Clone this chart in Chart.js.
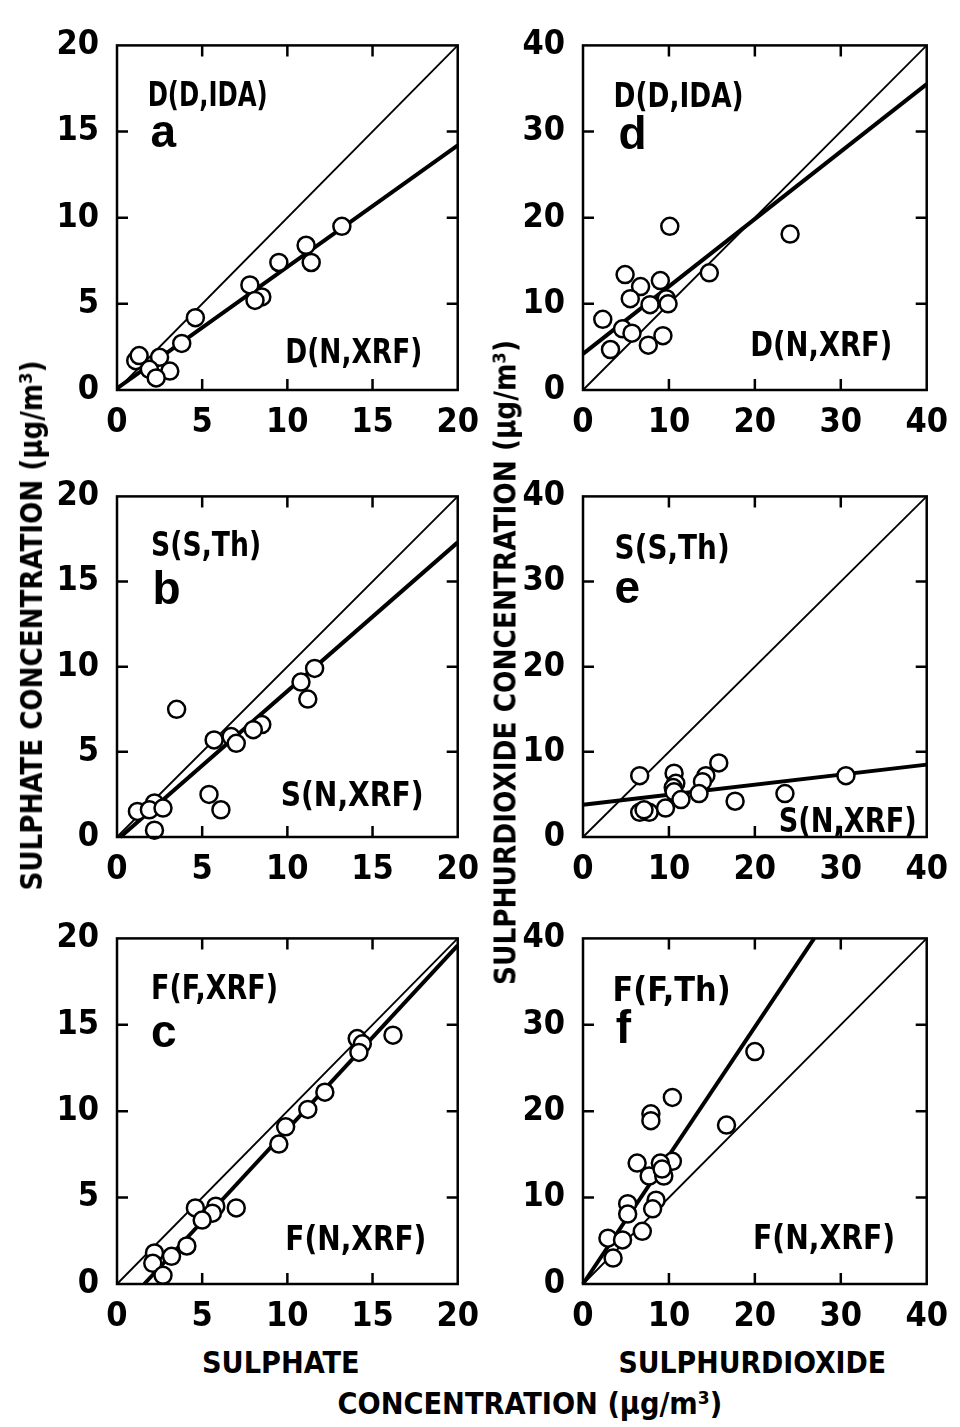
<!DOCTYPE html>
<html><head><meta charset="utf-8">
<script src="https://cdn.jsdelivr.net/npm/chart.js@4"></script>
<style>
html,body{margin:0;padding:0;background:#fff;}
body{width:960px;height:1427px;position:relative;overflow:hidden;}
canvas.p{position:absolute;}
.t{position:absolute;white-space:nowrap;font-family:"Liberation Sans Narrow","DejaVu Sans Condensed","DejaVu Sans",sans-serif;font-weight:bold;font-size:31px;color:#000;line-height:1;transform-origin:center center;}
</style></head><body>
<canvas class="p" id="pa"></canvas>
<canvas class="p" id="pb"></canvas>
<canvas class="p" id="pc"></canvas>
<canvas class="p" id="pd"></canvas>
<canvas class="p" id="pe"></canvas>
<canvas class="p" id="pf"></canvas>
<div class="t" id="tLeft">SULPHATE CONCENTRATION (μg/m³)</div>
<div class="t" id="tMid">SULPHURDIOXIDE CONCENTRATION (μg/m³)</div>
<div class="t" id="tSul">SULPHATE</div>
<div class="t" id="tSo2">SULPHURDIOXIDE</div>
<div class="t" id="tConc">CONCENTRATION (μg/m³)</div>
<script>
// ---------- DATA ----------
const sulphateTicks = [0, 5, 10, 15, 20];
const sulphateTickLabels = ['0', '5', '10', '15', '20'];
const so2Ticks = [0, 10, 20, 30, 40];
const so2TickLabels = ['0', '10', '20', '30', '40'];

// panel a: D(D,IDA) vs D(N,XRF), sulphate
const aX = [13.2, 11.1, 11.4, 9.5, 7.8, 8.5, 8.1, 4.6, 3.8, 1.1, 1.3, 2.5, 1.9, 3.1, 2.3];
const aY = [9.5, 8.4, 7.4, 7.4, 6.1, 5.4, 5.2, 4.2, 2.7, 1.7, 2.0, 1.9, 1.2, 1.1, 0.7];
const aFitX = [0, 20], aFitY = [0.1, 14.2];

// panel b: S(S,Th) vs S(N,XRF), sulphate
const bX = [11.6, 10.8, 11.2, 3.5, 8.5, 8.0, 6.7, 5.7, 7.0, 5.4, 6.1, 1.2, 2.2, 1.9, 2.7, 2.2];
const bY = [9.9, 9.1, 8.1, 7.5, 6.6, 6.3, 5.9, 5.7, 5.5, 2.5, 1.6, 1.5, 2.0, 1.6, 1.7, 0.4];
const bFitX = [0.2, 20], bFitY = [0, 17.3];

// panel c: F(F,XRF) vs F(N,XRF), sulphate
const cX = [16.2, 14.1, 14.4, 14.2, 12.2, 11.2, 9.9, 9.5, 4.6, 5.8, 7.0, 5.6, 5.0, 4.1, 3.2, 2.2, 2.1, 2.7];
const cY = [14.4, 14.2, 13.9, 13.4, 11.1, 10.1, 9.1, 8.1, 4.4, 4.5, 4.4, 4.1, 3.7, 2.2, 1.6, 1.8, 1.2, 0.5];
const cFitX = [1.6, 20], cFitY = [0, 19.6];

// panel d: D(D,IDA) vs D(N,XRF), sulphur dioxide
const dX = [10.1, 24.1, 14.7, 4.9, 6.7, 9.0, 5.5, 7.8, 9.7, 9.9, 2.3, 4.6, 5.7, 9.3, 3.2, 7.6];
const dY = [19.0, 18.1, 13.6, 13.4, 12.0, 12.7, 10.6, 9.9, 10.6, 10.0, 8.2, 7.1, 6.6, 6.3, 4.7, 5.2];
const dFitX = [0, 40], dFitY = [4.2, 35.5];

// panel e: S(S,Th) vs S(N,XRF), sulphur dioxide
const eX = [6.6, 15.8, 10.6, 14.3, 13.9, 10.8, 10.5, 10.6, 11.4, 13.5, 17.7, 23.5, 30.6, 6.6, 7.7, 9.6, 7.1];
const eY = [7.2, 8.7, 7.5, 7.2, 6.5, 6.3, 5.8, 5.3, 4.4, 5.1, 4.2, 5.1, 7.2, 2.9, 2.9, 3.4, 3.2];
const eFitX = [0, 40], eFitY = [3.8, 8.5];

// panel f: F(F,Th) vs F(N,XRF), sulphur dioxide
const fX = [20.0, 10.4, 7.9, 7.9, 16.7, 6.3, 10.4, 9.0, 7.7, 9.4, 9.2, 5.2, 8.5, 5.2, 8.1, 6.9, 2.9, 4.6, 3.5];
const fY = [26.9, 21.6, 19.7, 18.9, 18.4, 14.0, 14.2, 14.0, 12.5, 12.5, 13.3, 9.3, 9.7, 8.1, 8.7, 6.1, 5.3, 5.1, 3.0];
const fFitX = [0, 26.9], fFitY = [0, 40];

// 1:1 reference lines
const sulphateIdentity = [0, 20];
const so2Identity = [0, 40];

// ---------- RENDERING ----------
const NARROW = '"Liberation Sans Narrow","DejaVu Sans Condensed","DejaVu Sans",sans-serif';
const WIDE = '"Liberation Sans","DejaVu Sans",sans-serif';

const framePlugin = {
  id: 'frame',
  afterDraw(chart, args, opts) {
    const {ctx, chartArea: a, scales: {x, y}} = chart;
    ctx.save();
    ctx.strokeStyle = '#000';
    ctx.lineWidth = 2.5;
    ctx.strokeRect(a.left, a.top, a.width, a.height);
    const L = 11;
    ctx.beginPath();
    x.ticks.forEach(t => {
      if (t.value <= x.min || t.value >= x.max) return;
      const px = x.getPixelForValue(t.value);
      ctx.moveTo(px, a.bottom); ctx.lineTo(px, a.bottom - L);
      ctx.moveTo(px, a.top); ctx.lineTo(px, a.top + L);
    });
    y.ticks.forEach(t => {
      if (t.value <= y.min || t.value >= y.max) return;
      const py = y.getPixelForValue(t.value);
      ctx.moveTo(a.left, py); ctx.lineTo(a.left + L, py);
      ctx.moveTo(a.right, py); ctx.lineTo(a.right - L, py);
    });
    ctx.stroke();
    ctx.fillStyle = '#000';
    ctx.textBaseline = 'alphabetic';
    (opts.texts || []).forEach(t => {
      ctx.save();
      ctx.font = 'bold ' + t.size + 'px ' + (t.wide ? WIDE : NARROW);
      const w = ctx.measureText(t.text).width;
      const target = t.width || w;
      const k = target / w;
      const bx = a.left + t.fx * a.width;
      const by = a.top + t.fy * a.height;
      const left = t.right ? bx - target : bx;
      ctx.translate(left, by);
      ctx.scale(k, 1);
      ctx.textAlign = 'left';
      ctx.fillText(t.text, 0, 0);
      ctx.restore();
    });
    ctx.restore();
  }
};

function pts(xs, ys) { return xs.map((v, i) => ({x: v, y: ys[i]})); }

function axis(ticks, labels, isY) {
  return {
    type: 'linear',
    min: ticks[0], max: ticks[ticks.length - 1],
    afterBuildTicks: s => { s.ticks = ticks.map(v => ({value: v})); },
    afterFit: s => { if (isY) s.width = 70; else s.height = 55; },
    grid: {display: false, drawTicks: false},
    border: {display: false},
    ticks: {
      autoSkip: false, maxRotation: 0, minRotation: 0,
      padding: isY ? 18 : 13,
      color: '#000',
      font: {family: NARROW, size: 34, weight: 'bold'},
      callback: (v) => labels[ticks.indexOf(v)]
    }
  };
}

function panel(id, box, ticks, labels, xs, ys, fitX, fitY, ident, texts) {
  const cv = document.getElementById(id);
  const W = 70 + box.w + 30, H = 25 + box.h + 55;
  cv.width = W; cv.height = H;
  cv.style.left = (box.l - 70) + 'px';
  cv.style.top = (box.t - 25) + 'px';
  cv.style.width = W + 'px'; cv.style.height = H + 'px';
  new Chart(cv, {
    type: 'scatter',
    data: {
      datasets: [
        {data: pts(xs, ys), pointRadius: 8.5, pointBorderWidth: 2.5, pointBackgroundColor: '#fff',
         pointBorderColor: '#000', showLine: false, clip: false},
        {data: pts(fitX, fitY), showLine: true, borderColor: '#000', borderWidth: 4, pointRadius: 0, clip: false},
        {data: pts(ident, ident), showLine: true, borderColor: '#000', borderWidth: 1.8, pointRadius: 0, clip: false}
      ]
    },
    options: {
      responsive: false, animation: false, devicePixelRatio: 1,
      events: [],
      layout: {autoPadding: false, padding: {left: 0, top: 25, right: 30, bottom: 0}},
      plugins: {legend: {display: false}, tooltip: {enabled: false}, frame: {texts}},
      scales: {x: axis(ticks, labels, false), y: axis(ticks, labels, true)}
    },
    plugins: [framePlugin]
  });
}

const colL = {l: 117, w: 345}, colR = {l: 583, w: 348};
const row1 = {t: 32, h: 358}, row2 = {t: 483, h: 354}, row3 = {t: 925, h: 359};
const B = (c, r) => ({l: c.l, w: c.w, t: r.t, h: r.h});

panel('pa', B(colL, row1), sulphateTicks, sulphateTickLabels, aX, aY, aFitX, aFitY, sulphateIdentity, [
  {text: 'D(D,IDA)', fx: 0.09, fy: 0.176, size: 34, width: 120},
  {text: 'a', fx: 0.098, fy: 0.296, size: 46, wide: true},
  {text: 'D(N,XRF)', fx: 0.896, fy: 0.922, size: 34, width: 137, right: true}
]);
panel('pb', B(colL, row2), sulphateTicks, sulphateTickLabels, bX, bY, bFitX, bFitY, sulphateIdentity, [
  {text: 'S(S,Th)', fx: 0.10, fy: 0.175, size: 34, width: 110},
  {text: 'b', fx: 0.104, fy: 0.316, size: 46, wide: true},
  {text: 'S(N,XRF)', fx: 0.90, fy: 0.91, size: 34, width: 143, right: true}
]);
panel('pc', B(colL, row3), sulphateTicks, sulphateTickLabels, cX, cY, cFitX, cFitY, sulphateIdentity, [
  {text: 'F(F,XRF)', fx: 0.10, fy: 0.175, size: 34, width: 127},
  {text: 'c', fx: 0.10, fy: 0.314, size: 46, wide: true},
  {text: 'F(N,XRF)', fx: 0.908, fy: 0.903, size: 34, width: 141, right: true}
]);
panel('pd', B(colR, row1), so2Ticks, so2TickLabels, dX, dY, dFitX, dFitY, so2Identity, [
  {text: 'D(D,IDA)', fx: 0.089, fy: 0.179, size: 34, width: 130},
  {text: 'd', fx: 0.103, fy: 0.30, size: 46, wide: true},
  {text: 'D(N,XRF)', fx: 0.90, fy: 0.902, size: 34, width: 142, right: true}
]);
panel('pe', B(colR, row2), so2Ticks, so2TickLabels, eX, eY, eFitX, eFitY, so2Identity, [
  {text: 'S(S,Th)', fx: 0.092, fy: 0.183, size: 34, width: 115},
  {text: 'e', fx: 0.092, fy: 0.313, size: 46, wide: true},
  {text: 'S(N,XRF)', fx: 0.971, fy: 0.986, size: 34, width: 138, right: true}
]);
panel('pf', B(colR, row3), so2Ticks, so2TickLabels, fX, fY, fFitX, fFitY, so2Identity, [
  {text: 'F(F,Th)', fx: 0.086, fy: 0.182, size: 34, width: 118},
  {text: 'f', fx: 0.095, fy: 0.304, size: 46, wide: true},
  {text: 'F(N,XRF)', fx: 0.908, fy: 0.90, size: 34, width: 142, right: true}
]);

// outer titles
function place(id, cx, cy, target, rot) {
  const el = document.getElementById(id);
  const w = el.offsetWidth, h = el.offsetHeight;
  const k = target / w;
  el.style.left = (cx - w / 2) + 'px';
  el.style.top = (cy - h / 2) + 'px';
  el.style.transform = (rot ? 'rotate(-90deg) ' : '') + 'scaleX(' + k + ')';
}
place('tLeft', 31, 625, 530, true);
place('tMid', 505, 662, 645, true);
place('tSul', 281, 1362, 158, false);
place('tSo2', 752, 1362, 268, false);
place('tConc', 530, 1403, 385, false);
</script>
</body></html>
